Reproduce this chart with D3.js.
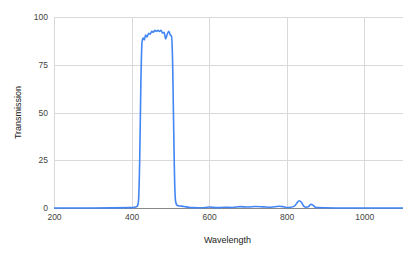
<!DOCTYPE html>
<html>
<head>
<meta charset="utf-8">
<script src="https://cdn.jsdelivr.net/npm/d3@7"></script>
<style>
  body { margin: 0; background: #fff; }
  text { font-family: "Liberation Sans", Arial, sans-serif; }
</style>
</head>
<body>
<div id="chart"></div>
<script>
// data
var wavelength = [200, 300, 400, 405, 410, 415, 418, 421, 424, 427, 430, 433, 436, 440, 444, 448,
  452, 456, 460, 464, 468, 472, 476, 480, 484, 488, 492, 496, 500, 503, 506, 508, 510, 512, 514,
  517, 520, 530, 540, 550, 560, 580, 600, 620, 640, 660, 680, 700, 720, 740, 760, 780, 790, 800,
  810, 820, 826, 832, 838, 844, 850, 856, 862, 868, 874, 880, 900, 950, 1000, 1050, 1100];
var transmission = [0, 0, 0.2, 0.3, 0.5, 1, 4, 25, 65, 87, 89, 88, 90.5, 89.5, 91.5, 91,
  92.5, 92, 93, 92.5, 93, 92.5, 93, 91.5, 92, 88.5, 91, 92.5, 90.5, 90, 75, 50, 25, 8, 3,
  1.5, 1.2, 1, 0.6, 0.3, 0.2, 0.1, 0.5, 0.2, 0.4, 0.3, 0.7, 0.5, 0.8, 0.6, 0.4, 0.9, 0.7, 0.3,
  0.4, 1.0, 2.5, 3.8, 3.0, 1.0, 0.4, 0.6, 2.0, 1.5, 0.4, 0.2, 0.1, 0, 0, 0, 0];
var xTicks = [200, 400, 600, 800, 1000];
var yTicks = [0, 25, 50, 75, 100];

var svgWidth = 416;
var svgHeight = 258;
var margin = { top: 17, right: 13, bottom: 50, left: 54 };
var width = svgWidth - margin.left - margin.right;
var height = svgHeight - margin.top - margin.bottom;

var svg = d3.select("#chart")
  .append("svg")
  .attr("width", svgWidth)
  .attr("height", svgHeight);

var chartGroup = svg.append("g")
  .attr("transform", `translate(${margin.left}, ${margin.top})`);

var data = wavelength.map((w, i) => ({ w: w, t: transmission[i] }));

var x = d3.scaleLinear().domain([200, 1100]).range([0, width]);
var y = d3.scaleLinear().domain([0, 100]).range([height, 0]);

// gridlines
chartGroup.append("g")
  .selectAll("line")
  .data(yTicks.filter(d => d > 0))
  .enter()
  .append("line")
  .attr("x1", 0)
  .attr("x2", width)
  .attr("y1", d => Math.round(y(d)) + 0.5)
  .attr("y2", d => Math.round(y(d)) + 0.5)
  .attr("stroke", "#d9d9d9");

chartGroup.append("g")
  .selectAll("line")
  .data(xTicks)
  .enter()
  .append("line")
  .attr("x1", d => Math.round(x(d)) + 0.5)
  .attr("x2", d => Math.round(x(d)) + 0.5)
  .attr("y1", 0)
  .attr("y2", height)
  .attr("stroke", "#d9d9d9");

// axes (labels only)
var bottomAxis = d3.axisBottom(x).tickValues(xTicks).tickFormat(d3.format("d")).tickSize(0).tickPadding(6);
var leftAxis = d3.axisLeft(y).tickValues(yTicks).tickSize(0).tickPadding(6);

var xAxisG = chartGroup.append("g")
  .attr("transform", `translate(0, ${height})`)
  .call(bottomAxis);
var yAxisG = chartGroup.append("g")
  .call(leftAxis);

[xAxisG, yAxisG].forEach(function(g) {
  g.select(".domain").remove();
  g.selectAll("text")
    .attr("fill", "#444")
    .style("font-size", "8.5px")
    .style("font-family", "'Liberation Sans', Arial, sans-serif");
});

// baseline
chartGroup.append("line")
  .attr("x1", 0)
  .attr("x2", width)
  .attr("y1", y(0) + 0.5)
  .attr("y2", y(0) + 0.5)
  .attr("stroke", "#888");

// the line
var line = d3.line()
  .x(d => x(d.w))
  .y(d => y(d.t))
  .curve(d3.curveMonotoneX);

chartGroup.append("path")
  .datum(data)
  .attr("d", line)
  .attr("fill", "none")
  .attr("stroke", "#4285f4")
  .attr("stroke-width", 1.6)
  .attr("stroke-linejoin", "round");

// axis titles
chartGroup.append("text")
  .attr("transform", "rotate(-90)")
  .attr("x", -height / 2)
  .attr("y", -margin.left + 21)
  .attr("text-anchor", "middle")
  .attr("fill", "#222")
  .style("font-size", "9px")
  .text("Transmission");

chartGroup.append("text")
  .attr("x", width / 2 - 1)
  .attr("y", height + 35)
  .attr("text-anchor", "middle")
  .attr("fill", "#222")
  .style("font-size", "9px")
  .text("Wavelength");
</script>
</body>
</html>
